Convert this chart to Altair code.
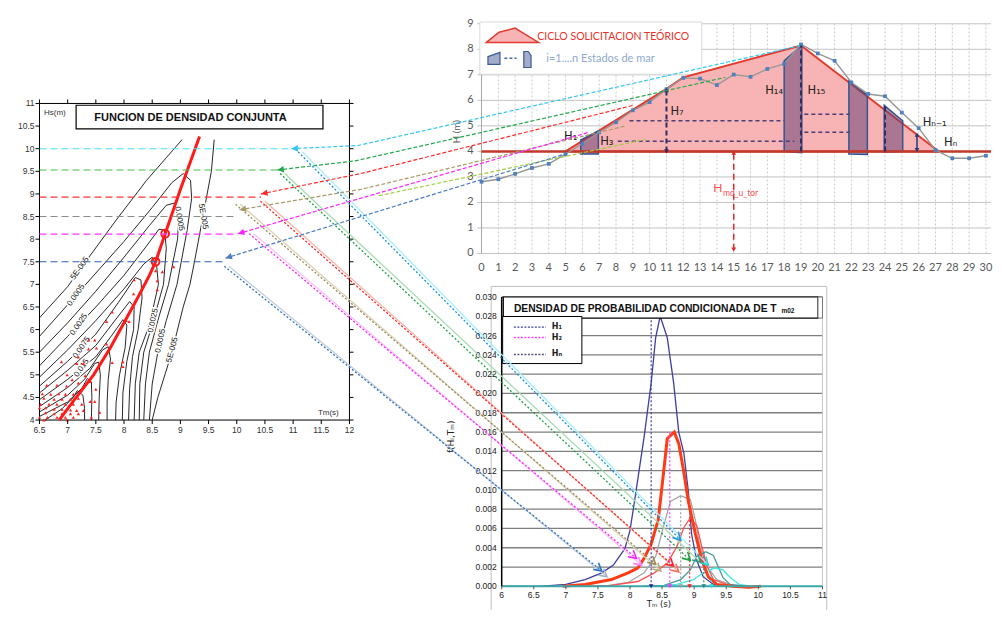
import math
import altair as alt
import pandas as pd

W, H = 986, 602
SX, SY = W / 1002.0, H / 618.0

# ---------------- panel axis anchors (reference pixels) ----------------
LEFT = {"xd": [6.5, 12.0], "xp": [32.0, 347.0], "yd": [4.0, 11.0], "yp": [423.0, 98.0]}
TOP = {"xd": [0.0, 30.0], "xp": [481.2, 993.8], "yd": [0.0, 9.0], "yp": [252.0, 16.2]}
BOT = {"xd": [6.0, 11.0], "xp": [501.7, 827.7], "yd": [0.0, 0.030], "yp": [593.7, 296.7]}
PAGE = {"xd": [0.0, 1002.0], "xp": [0.0, 1002.0], "yd": [0.0, 618.0], "yp": [0.0, 618.0]}
PANEL = {"L": LEFT, "T": TOP, "B": BOT}

# ======================= DATA =======================
# ---- joint density panel (Tm [s], Hs [m]) ----
hs_ticks = [4.0, 4.5, 5.0, 5.5, 6.0, 6.5, 7.0, 7.5, 8.0, 8.5, 9.0, 9.5, 10.0, 10.5, 11.0]
hs_labels = ["4", "4.5", "5", "5.5", "6", "6.5", "7", "7.5", "8", "8.5", "9", "9.5", "10", "10.5", "11"]
tm_ticks = [6.5, 7.0, 7.5, 8.0, 8.5, 9.0, 9.5, 10.0, 10.5, 11.0, 11.5, 12.0]
tm_labels = ["6.5", "7", "7.5", "8", "8.5", "9", "9.5", "10", "10.5", "11", "11.5", "12"]

contour_1a = [(6.5, 6.26), (7.0, 6.95), (7.3, 7.47), (7.86, 8.42), (8.4, 9.3), (8.75, 9.8), (9.03, 10.2)]
contour_1b = [(9.6, 10.2), (9.55, 9.5), (9.4, 8.5), (9.25, 7.5), (9.17, 7.0), (9.05, 6.5), (8.85, 5.5), (8.6, 4.5), (8.5, 4.0)]
contour_2 = [(6.5, 5.85), (7.0, 6.55), (7.5, 7.25), (8.0, 7.95), (8.5, 8.7), (8.85, 9.25), (9.05, 9.45), (9.18, 9.3),
             (9.2, 8.9), (9.12, 8.2), (8.94, 7.0), (8.75, 6.2), (8.6, 5.5), (8.5, 4.8), (8.45, 4.0)]
contour_3 = [(6.5, 5.5), (7.0, 6.15), (7.5, 6.85), (8.0, 7.6), (8.45, 8.3), (8.75, 8.75), (8.9, 8.8), (8.97, 8.5),
             (8.95, 8.0), (8.79, 7.0), (8.6, 6.2), (8.45, 5.5), (8.38, 4.8), (8.35, 4.0)]
contour_4 = [(6.5, 5.2), (7.0, 5.85), (7.5, 6.5), (8.0, 7.2), (8.4, 7.85), (8.62, 8.22), (8.72, 8.2), (8.75, 7.8),
             (8.7, 7.0), (8.5, 6.1), (8.35, 5.5), (8.28, 4.8), (8.27, 4.0)]
contour_5 = [(6.5, 4.95), (7.0, 5.55), (7.5, 6.2), (8.0, 6.9), (8.35, 7.45), (8.5, 7.6), (8.58, 7.4), (8.61, 7.0),
             (8.45, 6.1), (8.27, 5.5), (8.2, 4.8), (8.18, 4.0)]
contour_6 = [(6.5, 4.75), (7.0, 5.3), (7.5, 5.9), (7.9, 6.6), (8.2, 7.15), (8.3, 7.1), (8.32, 6.7), (8.25, 6.0),
             (8.15, 5.4), (8.1, 4.7), (8.08, 4.0)]
contour_7 = [(6.5, 4.6), (7.0, 5.1), (7.5, 5.65), (7.9, 6.3), (8.1, 6.62), (8.18, 6.5), (8.17, 6.0), (8.05, 5.3),
             (7.98, 4.6), (7.97, 4.0)]
contour_8 = [(6.5, 4.45), (7.0, 4.9), (7.5, 5.4), (7.8, 5.9), (7.98, 6.22), (8.05, 6.1), (8.02, 5.6), (7.92, 5.0),
             (7.86, 4.4), (7.85, 4.0)]
contour_9 = [(6.5, 4.3), (7.0, 4.72), (7.4, 5.15), (7.62, 5.55), (7.72, 5.62), (7.76, 5.35), (7.72, 4.9), (7.7, 4.4), (7.7, 4.0)]
contour_10 = [(6.5, 4.18), (7.0, 4.55), (7.3, 4.9), (7.48, 5.25), (7.55, 5.28), (7.58, 5.0), (7.56, 4.5), (7.55, 4.0)]
contour_11 = [(6.5, 4.08), (7.0, 4.4), (7.25, 4.7), (7.35, 4.92), (7.42, 4.85), (7.43, 4.5), (7.42, 4.0)]
contour_12 = [(6.6, 4.0), (6.9, 4.25), (7.1, 4.5), (7.17, 4.65), (7.27, 4.55), (7.3, 4.25), (7.3, 4.0)]

cl_text = ["5E-005", "0.0005", "0.0025", "0.0075", "0.015", "0.0025", "0.0005", "5E-005", "0.0005", "5E-005"]
cl_tm = [7.22, 7.15, 7.2, 7.25, 7.25, 8.52, 8.65, 8.86, 8.98, 9.4]
cl_hs = [7.35, 6.76, 6.11, 5.6, 5.15, 6.2, 5.75, 5.55, 8.45, 8.5]
cl_ang = [305, 305, 305, 305, 305, 282, 282, 285, 80, 80]

scatter_tm = [8.18, 8.17, 8.56, 8.68, 8.59, 8.59, 8.88, 7.79, 7.69, 8.04, 8.09, 7.48, 7.69, 7.51, 7.19, 7.37, 7.37,
              6.89, 7.16, 7.28, 7.79, 7.98, 7.98, 6.99, 7.31, 7.19, 7.40, 7.50, 6.63, 6.81, 6.98, 7.08, 6.55, 6.70,
              6.84, 6.96, 7.10, 6.58, 6.76, 6.90, 7.05, 7.19, 7.40, 7.48, 6.52, 6.67, 6.81, 6.96, 7.10, 7.25, 6.50,
              6.61, 6.76, 6.90, 7.05, 7.16, 7.28, 7.57, 6.61, 6.76, 6.90, 7.05, 7.19, 6.50, 6.64, 6.81, 6.96, 7.10,
              7.42, 6.58, 6.99]
scatter_hs = [7.10, 6.79, 7.30, 7.28, 7.08, 6.88, 7.39, 6.39, 6.18, 6.20, 6.18, 5.77, 5.68, 5.59, 5.39, 5.77, 5.57,
              5.29, 5.25, 5.25, 5.27, 5.29, 5.18, 5.00, 4.98, 4.82, 4.85, 4.68, 4.77, 4.77, 4.75, 4.89, 4.58, 4.57,
              4.58, 4.57, 4.57, 4.48, 4.46, 4.46, 4.46, 4.48, 4.41, 4.41, 4.35, 4.35, 4.35, 4.35, 4.35, 4.35, 4.27,
              4.27, 4.24, 4.24, 4.22, 4.21, 4.21, 4.17, 4.16, 4.14, 4.14, 4.14, 4.14, 4.06, 4.06, 4.06, 4.06, 4.06,
              4.06, 4.00, 4.00]

red_tm = [6.85, 7.1, 7.46, 7.75, 8.0, 8.25, 8.45, 8.56, 8.73, 9.0, 9.34]
red_hs = [4.0, 4.42, 5.0, 5.58, 6.15, 6.72, 7.2, 7.5, 8.12, 9.1, 10.27]
circle_tm = [8.56, 8.73]
circle_hs = [7.5, 8.12]

level_hs = [10.0, 9.53, 8.93, 8.5, 8.11, 7.5]
level_end = [10.97, 10.72, 10.43, 10.0, 10.02, 9.8]
level_color = ["#44e4f4", "#44c044", "#ff3333", "#8c8c8c", "#ff33ff", "#2f5fb0"]

# ---- storm cycle panel (t [h], H [m]) ----
cyc_t = [5.0, 11.0, 12.0, 19.0, 27.2]
cyc_h = [4.0, 6.45, 6.9, 8.15, 4.0]
obs_t = list(range(31))
obs_h = [2.81, 2.91, 3.12, 3.35, 3.51, 3.89, 4.30, 4.75, 5.14, 5.61, 5.93, 6.44, 6.88, 6.85, 6.60, 7.01, 6.92,
         7.23, 7.43, 8.19, 7.84, 7.55, 6.70, 6.25, 6.16, 5.52, 4.91, 4.05, 3.73, 3.73, 3.83]
blk_id = [1, 1, 2, 2, 3, 3, 4, 4]
blk_t = [5.9, 6.95, 18.0, 19.05, 21.85, 22.95, 23.95, 25.05]
blk_top = [4.45, 4.8, 7.55, 8.15, 6.75, 6.2, 5.8, 5.2]
blk_bot = [3.9, 3.9, 4.0, 3.95, 3.9, 3.88, 3.98, 4.0]
hd_t1 = [8.8, 8.1, 19.2, 19.2]
hd_t2 = [18.0, 18.6, 21.9, 21.9]
hd_h = [5.2, 4.4, 5.46, 4.75]
vd_t = [11.0, 19.0, 24.0]
vd_lo = [4.0, 4.0, 4.0]
vd_hi = [6.4, 8.15, 5.8]
hlab_text = ["H\u2081", "H\u2083", "H\u2087", "H\u2081\u2084", "H\u2081\u2085", "H\u2099\u208b\u2081", "H\u2099"]
hlab_t = [5.3, 7.45, 11.63, 17.4, 19.92, 26.95, 27.9]
hlab_h = [4.56, 4.36, 5.55, 6.37, 6.37, 5.12, 4.33]
t_labels = [str(v) for v in range(31)]
h_labels = [str(v) for v in range(10)]

# ---- conditional density panel (Tm [s], f) ----
bt_ticks = [6.0, 6.5, 7.0, 7.5, 8.0, 8.5, 9.0, 9.5, 10.0, 10.5, 11.0]
bt_labels = ["6", "6.5", "7", "7.5", "8", "8.5", "9", "9.5", "10", "10.5", "11"]
bf_ticks = [0.0, 0.002, 0.004, 0.006, 0.008, 0.010, 0.012, 0.014, 0.016, 0.018, 0.020, 0.022, 0.024, 0.026, 0.028, 0.030]
bf_labels = ["%.3f" % v for v in bf_ticks]

f1_T = [6.0, 6.6, 7.0, 7.3, 7.56, 7.74, 7.92, 8.0, 8.07, 8.22, 8.33, 8.40, 8.47, 8.58, 8.68, 8.76, 8.84, 8.91, 8.96, 9.04, 9.14, 9.30, 9.6]
f1_F = [0.0, 0.0, 0.0002, 0.0007, 0.0014, 0.0022, 0.0039, 0.0058, 0.0088, 0.0155, 0.0211, 0.0258, 0.0280, 0.0258, 0.0211, 0.016, 0.0138, 0.0098, 0.0054, 0.0027, 0.001, 0.0002, 0.0]
f2_T = [6.95, 7.3, 7.71, 7.97, 8.12, 8.22, 8.33, 8.44, 8.53, 8.58, 8.69, 8.76, 8.83, 8.91, 9.02, 9.12, 9.22, 9.35, 9.6, 9.85, 10.04]
f2_F = [0.0, 0.0002, 0.0007, 0.0014, 0.0019, 0.0029, 0.0044, 0.0069, 0.0122, 0.0153, 0.016, 0.0148, 0.0122, 0.0088, 0.0054, 0.0027, 0.001, 0.0002, 0.0, -0.0001, 0.0]
f3_T = [7.57, 7.97, 8.22, 8.4, 8.53, 8.63, 8.79, 8.94, 9.02, 9.09, 9.2, 9.35, 9.6, 9.85]
f3_F = [0.0, 0.0004, 0.0014, 0.0031, 0.0064, 0.0088, 0.0094, 0.009, 0.0068, 0.0041, 0.0021, 0.0007, 0.0001, 0.0]
f4_T = [7.3, 7.71, 8.12, 8.38, 8.58, 8.73, 8.84, 8.94, 9.04, 9.12, 9.2, 9.3, 9.55, 9.7]
f4_F = [0.0, 0.0001, 0.0005, 0.0014, 0.0024, 0.0041, 0.0061, 0.0071, 0.0063, 0.0041, 0.0021, 0.0007, 0.0001, 0.0]
f5_T = [8.2, 8.53, 8.79, 8.94, 9.04, 9.18, 9.3, 9.37, 9.45, 9.56, 9.85]
f5_F = [0.0, 0.0001, 0.0007, 0.0017, 0.0031, 0.0036, 0.0032, 0.0021, 0.0009, 0.0002, 0.0]
f6_T = [8.4, 8.73, 8.99, 9.14, 9.32, 9.45, 9.55, 9.7, 9.9]
f6_F = [0.0, 0.0002, 0.0007, 0.0014, 0.0019, 0.0017, 0.001, 0.0002, 0.0]

pk_T = [8.33, 8.62, 8.79, 8.93, 9.15, 9.27]
pk_F = [0.028, 0.016, 0.0094, 0.0072, 0.0036, 0.0019]
pk_line = ["#3f3f9f", "#ff40ff", "#a0a0a0", "#ff3030", "#3a8a8a", "#30e0e0"]
pk_mark = ["#2a2a8a", "#ff30ff", "#a0a0a0", "#ff2020", "#2a8a8a", "#20e0e0"]

# ---- connector arrows ----
setA_color = ["#33c6f2", "#22a84a", "#ff2a2a", "#a89a6a", "#ff22ff", "#a4cc44", "#4a7cc2"]
setA_path = [
    [("L", 10.97, 10.0), ("L", 12.15, 10.07), ("T", 19.0, 8.15)],
    [("L", 10.72, 9.53), ("L", 12.1, 9.73), ("T", 14.5, 6.9)],
    [("L", 10.43, 9.0), ("L", 12.2, 9.45), ("T", 9.0, 5.8)],
    [("L", 10.05, 8.65), ("L", 12.2, 9.1), ("T", 8.6, 5.0)],
    [("L", 10.02, 8.12), ("T", 6.4, 4.75)],
    [("L", 12.52, 8.96), ("T", 9.76, 4.47)],
    [("L", 9.8, 7.58), ("T", 4.93, 3.89)],
]
setA_head = [True, True, True, True, True, False, True]

setB_color = ["#1e8fe6", "#1fa043", "#ff2222", "#9a8a5a", "#ff22ff", "#2a74c4"]
setB_start = [(11.09, 9.93), (10.77, 9.45), (10.42, 8.84), (9.98, 8.77), (10.22, 8.12), (9.78, 7.40)]
setB_end = [(8.79, 0.0048), (8.94, 0.0027), (8.68, 0.0021), (8.40, 0.0023), (8.10, 0.0029), (7.56, 0.0016)]
setB_pale = ["#a6eef8", "#a8dcb4", "#f6b6aa", "#d8d0b2", "#f6c2f2", "#c6ceda"]
setB_pale_head = ["#22d6e0", "#2a9a8a", "#ff6a5a", "#b8a878", "#ff80ff", "#9fb0c8"]
setB_pale_end = [(9.22, 0.0022), (9.1, 0.0025), (8.76, 0.0015), (8.48, 0.0016), (8.18, 0.0022), (7.64, 0.0010)]


# ======================= helpers =======================
def scale_of(P, axis):
    if axis == "x":
        return alt.Scale(domain=P["xd"], range=[v * SX for v in P["xp"]], nice=False, zero=False)
    return alt.Scale(domain=P["yd"], range=[v * SY for v in P["yp"]], nice=False, zero=False)


def put(ch, P, x="x", y="y", x2=None, y2=None, **kw):
    enc = {"x": alt.X(f"{x}:Q", scale=scale_of(P, "x"), axis=None),
           "y": alt.Y(f"{y}:Q", scale=scale_of(P, "y"), axis=None)}
    if x2:
        enc["x2"] = alt.X2(x2)
    if y2:
        enc["y2"] = alt.Y2(y2)
    enc.update(kw)
    return ch.encode(**enc)


def to_px(P, a, b):
    (d0, d1), (p0, p1) = P["xd"], P["xp"]
    (e0, e1), (q0, q1) = P["yd"], P["yp"]
    return p0 + (a - d0) * (p1 - p0) / (d1 - d0), q0 + (b - e0) * (q1 - q0) / (e1 - e0)


def heading(x0, y0, x1, y1):
    dx, dy = (x1 - x0) * SX, (y1 - y0) * SY
    return math.degrees(math.atan2(dx, -dy)) % 360


def col(v, n):
    return v if isinstance(v, list) else [v] * n


def lines(P, groups, colors, **mk):
    rows = []
    for g, pts in enumerate(groups):
        for i, (a, b) in enumerate(pts):
            rows.append({"g": g, "i": i, "x": a, "y": b, "c": col(colors, len(groups))[g]})
    return put(alt.Chart(pd.DataFrame(rows)).mark_line(**mk), P,
               detail="g:N", order="i:Q", color=alt.Color("c:N", scale=None))


def text(P, xs_, ys_, labels, angles=None, **mk):
    d = pd.DataFrame({"x": list(xs_), "y": list(ys_), "t": list(labels)})
    kw = {"text": alt.Text("t:N")}
    if angles is not None:
        d["a"] = angles
        kw["angle"] = alt.Angle("a:Q", scale=None)
    return put(alt.Chart(d).mark_text(**mk), P, **kw)


def symbols(P, xs_, ys_, shape, size, colors, filled=True, sw=1.0, angles=None):
    n = len(xs_)
    d = pd.DataFrame({"x": list(xs_), "y": list(ys_), "c": col(colors, n)})
    kw = {"color": alt.Color("c:N", scale=None)}
    if angles is not None:
        d["a"] = angles
        kw["angle"] = alt.Angle("a:Q", scale=None)
    return put(alt.Chart(d).mark_point(shape=shape, size=size, filled=filled, strokeWidth=sw, opacity=1), P, **kw)


def hrules(P, x1s, x2s, ys_, colors, **mk):
    n = len(ys_)
    d = pd.DataFrame({"x": col(x1s, n), "x2": col(x2s, n), "y": list(ys_), "c": col(colors, n)})
    return put(alt.Chart(d).mark_rule(**mk), P, x2="x2", color=alt.Color("c:N", scale=None))


def vrules(P, xs_, y1s, y2s, colors, **mk):
    n = len(xs_)
    d = pd.DataFrame({"x": list(xs_), "y": col(y1s, n), "y2": col(y2s, n), "c": col(colors, n)})
    return put(alt.Chart(d).mark_rule(**mk), P, y2="y2", color=alt.Color("c:N", scale=None))


def box(P, x1, x2, y1, y2, **mk):
    d = pd.DataFrame({"x": [x1], "x2": [x2], "y": [y1], "y2": [y2]})
    return put(alt.Chart(d).mark_rect(**mk), P, x2="x2", y2="y2")


ARIAL = "Liberation Sans"
CAL = "Lato, DejaVu Sans"
layers = []

# ======================= left panel =======================
layers.append(box(LEFT, 6.5, 12.0, 4.0, 11.0, fill="white", stroke="black", strokeWidth=1))
contours = [contour_1a, contour_1b, contour_2, contour_3, contour_4, contour_5, contour_6,
            contour_7, contour_8, contour_9, contour_10, contour_11, contour_12]
layers.append(lines(LEFT, contours, "#111111", strokeWidth=0.9))
layers.append(text(LEFT, cl_tm, cl_hs, cl_text, angles=cl_ang, fontSize=8, font=ARIAL,
                   stroke="white", strokeWidth=3, color="white"))
layers.append(text(LEFT, cl_tm, cl_hs, cl_text, angles=cl_ang, fontSize=8, font=ARIAL, color="#111"))
layers.append(symbols(LEFT, scatter_tm, scatter_hs, "triangle-up", 11, "#ff2020"))
layers.append(lines(LEFT, [list(zip(red_tm, red_hs))], "#ff1a1a", strokeWidth=3))
layers.append(symbols(LEFT, circle_tm, circle_hs, "circle", 60, "#ff1a1a", filled=False, sw=2))
layers.append(hrules(LEFT, 6.5, level_end, level_hs, level_color, strokeDash=[7, 4], strokeWidth=1.1))
layers.append(symbols(LEFT, [6.5] * 15, hs_ticks, "M0,0L-1,0", 64, "black", filled=False))
layers.append(symbols(LEFT, [12.0] * 15, hs_ticks, "M0,0L1,0", 64, "black", filled=False))
layers.append(symbols(LEFT, tm_ticks, [11.0] * 12, "M0,0L0,-1", 64, "black", filled=False))
layers.append(symbols(LEFT, tm_ticks, [4.0] * 12, "M0,0L0,1", 64, "black", filled=False))
layers.append(text(LEFT, [6.5] * 15, hs_ticks, hs_labels, align="right", dx=-5, fontSize=8.5, font=ARIAL, color="#333"))
layers.append(text(LEFT, tm_ticks, [4.0] * 12, tm_labels, dy=10, fontSize=8.5, font=ARIAL, color="#333"))
layers.append(box(LEFT, 7.15, 11.53, 10.44, 10.96, fill="white", stroke="black", strokeWidth=1.2))
layers.append(text(LEFT, [9.18], [10.68], ["FUNCION DE DENSIDAD CONJUNTA"], fontSize=11, fontWeight="bold",
                   font=ARIAL, color="#111"))
layers.append(text(LEFT, [6.58], [10.78], ["Hs(m)"], align="left", fontSize=8, font=ARIAL, color="#333"))
layers.append(text(LEFT, [11.44], [4.16], ["Tm(s)"], align="left", fontSize=8, font=ARIAL, color="#333"))

# ======================= storm cycle panel =======================
layers.append(hrules(TOP, -0.25, 30.3, list(range(10)), "#c3c3c3", strokeWidth=1))
layers.append(vrules(TOP, list(range(1, 31)), 0, 9, "#c9c9c9", strokeDash=[2, 2], strokeWidth=1))
layers.append(vrules(TOP, [0], 0, 9, "#a6a6a6", strokeWidth=1))
layers.append(text(TOP, [0] * 10, list(range(10)), h_labels, align="right", dx=-8, fontSize=11, font=CAL, color="#595959"))
layers.append(text(TOP, obs_t, [0] * 31, t_labels, dy=15, fontSize=11, font=CAL, color="#595959"))
layers.append(text(TOP, [-1.47], [4.77], ["H (m)"], angles=[270], fontSize=10, font=CAL, color="#595959"))
layers.append(box(TOP, -0.1, 13.1, 7.02, 9.07, fill="white", stroke="#d9d9d9", strokeWidth=1))
layers.append(put(alt.Chart(pd.DataFrame({"x": cyc_t, "y": cyc_h, "b": [4.0] * len(cyc_t)}))
                  .mark_area(fill="#f8b4b4", stroke="#e23a2e", strokeWidth=2, opacity=1), TOP, y2="b"))
layers.append(put(alt.Chart(pd.DataFrame({"x": blk_t, "y": blk_top, "b": blk_bot, "g": blk_id}))
                  .mark_area(fill="#6b4476", fillOpacity=0.55, stroke="#34548f", strokeWidth=1.5), TOP, y2="b",
                  detail="g:N"))
layers.append(hrules(TOP, hd_t1, hd_t2, hd_h, "#4b3f7a", strokeDash=[4, 3], strokeWidth=1.5))
layers.append(hrules(TOP, 0, 30.3, [4.0], "#c0392b", strokeWidth=2.5))
layers.append(lines(TOP, [list(zip(obs_t, obs_h))], "#969696", strokeWidth=1.4))
layers.append(symbols(TOP, obs_t, obs_h, "square", 14, "#4f81bd"))
layers.append(vrules(TOP, vd_t, vd_lo, vd_hi, "#2e2e5e", strokeDash=[5, 3], strokeWidth=2))
layers.append(vrules(TOP, [25.9], 4.05, 4.65, "#1f3a7a", strokeWidth=1.5))
layers.append(vrules(TOP, [15.0], 0.15, 3.95, "#e02828", strokeDash=[6, 4], strokeWidth=1.5))
layers.append(symbols(TOP, [11.0, 25.9, 15.0], [6.4, 4.65, 3.95], "triangle-up", 22, ["#2e2e5e", "#1f3a7a", "#e02828"]))
layers.append(symbols(TOP, [11.0, 25.9, 15.0], [4.0, 4.05, 0.15], "triangle-down", 22, ["#2e2e5e", "#1f3a7a", "#e02828"]))
layers.append(text(TOP, hlab_t, hlab_h, hlab_text, fontSize=11.5, font="DejaVu Sans", color="#222"))
layers.append(text(TOP, [14.06], [2.56], ["H"], fontSize=12, font=CAL, color="#ff5050"))
layers.append(text(TOP, [14.36], [2.37], ["md_u_tor"], align="left", fontSize=8.5, font=CAL, color="#ff5050"))
# legend icons & text
layers.append(put(alt.Chart(pd.DataFrame({"x": [1.785], "y": [8.47]})).mark_point(
    shape="M-0.93,0.19L-0.46,-0.19L0.13,-0.34L1,0.19Z", size=2916, filled=True, fill="#f8b4b4",
    stroke="#e23a2e", strokeWidth=1.5, opacity=1), TOP))
layers.append(put(alt.Chart(pd.DataFrame({"x": [0.74], "y": [7.645]})).mark_point(
    shape="M-1,-0.3L1,-1L1,1L-1,1Z", size=144, filled=True, fill="#a3adc9",
    stroke="#3a5a96", strokeWidth=1.2, opacity=1), TOP))
layers.append(put(alt.Chart(pd.DataFrame({"x": [2.73], "y": [7.6]})).mark_point(
    shape="M-0.45,-1L0.1,-1L0.45,-0.5L0.45,1L-0.45,1Z", size=256, filled=True, fill="#a3adc9",
    stroke="#3a5a96", strokeWidth=1.2, opacity=1), TOP))
layers.append(hrules(TOP, 1.36, 2.09, [7.645], "#4a6aa0", strokeDash=[3, 2], strokeWidth=1.5))
layers.append(text(TOP, [3.32], [8.47], ["CICLO SOLICITACION TEÓRICO"], align="left", fontSize=10.5,
                   font=CAL, color="#e8322a"))
layers.append(text(TOP, [3.85], [7.63], ["i=1....n Estados de mar"], align="left", fontSize=11,
                   font=CAL, color="#8ea9cf"))

# ======================= conditional density panel =======================
layers.append(box(BOT, 5.836, 11.066, -0.0045, 0.0311, fill="white", stroke="#bfbfbf", strokeWidth=1))
layers.append(hrules(BOT, 6.0, 11.0, bf_ticks[1:], "#7f7f7f", strokeWidth=1.3))
layers.append(vrules(BOT, [11.0], 0, 0.030, "#c8c8c8", strokeWidth=1))
layers.append(lines(BOT, [list(zip(f1_T, f1_F))], "#3f3f9f", strokeWidth=1.3))
layers.append(lines(BOT, [list(zip(f3_T, f3_F))], "#a6a6a6", strokeWidth=1.3))
layers.append(lines(BOT, [list(zip(f4_T, f4_F))], "#ff5050", strokeWidth=1.3))
layers.append(lines(BOT, [list(zip(f5_T, f5_F))], "#4a9a9a", strokeWidth=1.3))
layers.append(lines(BOT, [list(zip(f6_T, f6_F))], "#40e8e8", strokeWidth=1.3))
layers.append(lines(BOT, [list(zip(f2_T, f2_F))], "#ff3a14", strokeWidth=3))
layers.append(vrules(BOT, pk_T, 0, pk_F, pk_line, strokeDash=[2, 2], strokeWidth=1.2))
layers.append(hrules(BOT, 6.0, 11.0, [0.0], "#3aa6a6", strokeWidth=2))
layers.append(vrules(BOT, [6.0], 0, 0.030, "black", strokeWidth=1.5))
layers.append(symbols(BOT, pk_T, [0.0] * 6, "triangle-down", 22, pk_mark))
layers.append(symbols(BOT, bt_ticks, [0.0] * 11, "M0,0L0,1", 36, "#555555", filled=False))
layers.append(text(BOT, [6.0] * 16, bf_ticks, bf_labels, align="right", dx=-5, fontSize=8.5, font=ARIAL, color="#222"))
layers.append(text(BOT, bt_ticks, [0.0] * 11, bt_labels, dy=9, fontSize=8.5, font=ARIAL, color="#222"))
layers.append(box(BOT, 6.025, 10.93, 0.02782, 0.0300, fill="white", stroke="black", strokeWidth=1.2))
layers.append(box(BOT, 10.93, 11.0, 0.02782, 0.0300, fill="white", stroke="#777777", strokeWidth=1))
layers.append(text(BOT, [6.19], [0.02875], ["DENSIDAD DE PROBABILIDAD CONDICIONADA DE T"], align="left",
                   fontSize=10.3, fontWeight="bold", font=ARIAL, color="#111"))
layers.append(text(BOT, [10.36], [0.02850], ["m02"], align="left", fontSize=6.5, fontWeight="bold",
                   font=ARIAL, color="#111"))
layers.append(box(BOT, 6.015, 7.25, 0.02310, 0.02798, fill="white", stroke="black", strokeWidth=1))
layers.append(hrules(BOT, 6.19, 6.69, [0.02687, 0.0258, 0.02404], ["#3f3f9f", "#ff40ff", "#555577"],
                     strokeDash=[2, 1.5], strokeWidth=1.3))
layers.append(text(BOT, [6.78] * 3, [0.02687, 0.0258, 0.02404], ["H\u2081", "H\u2082", "H\u2099"], align="left",
                   fontSize=8, fontWeight="bold", font="DejaVu Sans", color="#222"))
layers.append(text(BOT, [5.207], [0.0155], ["f(H\u1d62,T\u2098)"], angles=[270], fontSize=9,
                   font="DejaVu Sans", color="#222"))
layers.append(text(BOT, [8.45], [-0.00185], ["T\u2098 (s)"], fontSize=8.5, font="DejaVu Sans", color="#222"))

# ======================= connector arrows (page space) =======================
rowsB, rowsP, headB = [], [], []
for k in range(len(setB_color)):
    s = to_px(LEFT, *setB_start[k])
    e = to_px(BOT, *setB_end[k])
    rowsB.append([s, e])
    s2 = to_px(LEFT, setB_start[k][0] + 0.08, setB_start[k][1])
    e2 = to_px(BOT, *setB_pale_end[k])
    rowsP.append([s2, e2])
    headB.append((e[0], e[1], heading(s[0], s[1], e[0], e[1]), setB_color[k]))
    headB.append((e2[0], e2[1], heading(s2[0], s2[1], e2[0], e2[1]), setB_pale_head[k]))
layers.append(lines(PAGE, rowsP, setB_pale, strokeWidth=1.3))
layers.append(lines(PAGE, rowsB, setB_color, strokeDash=[2, 2], strokeWidth=1.3))
layers.append(symbols(PAGE, [h[0] for h in headB], [h[1] for h in headB], "M-0.55,1L0,0L0.55,1", 230,
                      [h[3] for h in headB], filled=False, sw=1.6, angles=[h[2] for h in headB]))

rowsA, headA = [], []
for k, path in enumerate(setA_path):
    pts = [to_px(PANEL[p], a, b) for p, a, b in path]
    rowsA.append(pts)
    if setA_head[k]:
        headA.append((pts[0][0], pts[0][1], heading(pts[1][0], pts[1][1], pts[0][0], pts[0][1]), setA_color[k]))
layers.append(lines(PAGE, rowsA, setA_color, strokeDash=[4, 2], strokeWidth=1.2))
layers.append(symbols(PAGE, [h[0] for h in headA], [h[1] for h in headA], "M0,0L-0.5,1L0.5,1Z", 170,
                      [h[3] for h in headA], angles=[h[2] for h in headA]))

chart = (
    alt.layer(*layers)
    .resolve_scale(x="independent", y="independent")
    .properties(width=W, height=H, autosize=alt.AutoSizeParams(type="none"), padding=0, background="white")
    .configure_view(stroke=None)
)
chart.save("out.html", embed_options={"renderer": "svg", "actions": False})
